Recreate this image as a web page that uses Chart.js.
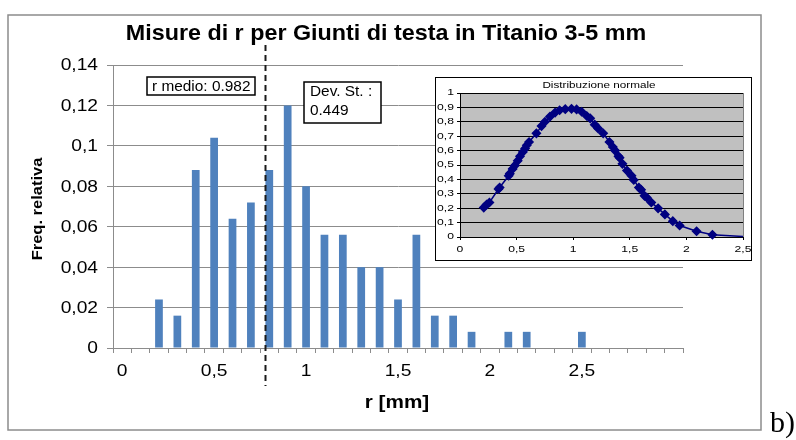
<!DOCTYPE html>
<html><head><meta charset="utf-8">
<script src="https://cdn.jsdelivr.net/npm/chart.js@4.4.1/dist/chart.umd.min.js"></script>
<style>
html,body{margin:0;padding:0;background:#fff;}
#wrap{position:relative;width:796px;height:440px;overflow:hidden;background:#fff;}
#main{position:absolute;left:0;top:0;}
#insetBox{position:absolute;left:435px;top:77px;width:315px;height:182px;border:1px solid #000;background:#fff;}
#inset{position:absolute;left:0;top:0;}
</style></head><body>
<div id="wrap">
<canvas id="main" width="796" height="440"></canvas>
<div id="insetBox"><canvas id="inset" width="315" height="182"></canvas></div>
</div>
<script>
// ---- main histogram data ----
const categories = ['0','0,1','0,2','0,3','0,4','0,5','0,6','0,7','0,8','0,9',
  '1','1,1','1,2','1,3','1,4','1,5','1,6','1,7','1,8','1,9',
  '2','2,1','2,2','2,3','2,4','2,5','2,6','2,7','2,8','2,9','3'];
const relFreq = [0,0,0.024,0.016,0.088,0.104,0.064,0.072,0.088,0.12,
  0.08,0.056,0.056,0.04,0.04,0.024,0.056,0.016,0.016,0.008,
  0,0.008,0.008,0,0,0.008,0,0,0,0,0];
const shownXLabels = ['0','0,5','1','1,5','2','2,5'];
const yTickValues = [0,0.02,0.04,0.06,0.08,0.1,0.12,0.14];
const titleText = 'Misure di r per Giunti di testa in Titanio 3-5 mm';
const xTitle = 'r [mm]';
const yTitle = 'Freq. relativa';
const meanLabel = 'r medio: 0.982';
const devLabel = ['Dev. St. :', '0.449'];
const meanLineCategoryPos = 7.77;
const panelLabel = 'b)';

// ---- inset normal distribution data ----
const insetTitle = 'Distribuzione normale';
const insetX = [0.21,0.235,0.26,0.34,0.35,0.43,0.44,0.465,0.485,0.51,0.53,0.555,0.575,0.59,0.61,
  0.675,0.72,0.75,0.795,0.84,0.88,0.93,0.985,1.03,1.075,1.12,1.15,1.19,1.22,1.265,
  1.32,1.35,1.37,1.40,1.41,1.435,1.475,1.515,1.535,1.58,1.60,1.63,1.65,1.69,1.75,
  1.81,1.88,1.94,2.09,2.23,2.5];
const insetY = [0.204,0.225,0.24,0.333,0.344,0.425,0.44,0.473,0.497,0.53,0.56,0.59,0.614,0.637,0.66,
  0.72,0.77,0.80,0.836,0.864,0.88,0.888,0.89,0.886,0.87,0.84,0.824,0.78,0.754,0.72,
  0.66,0.625,0.60,0.56,0.55,0.508,0.461,0.426,0.396,0.344,0.328,0.286,0.274,0.24,0.199,
  0.157,0.11,0.08,0.04,0.016,0.003];
const insetXTicks = ['0','0,5','1','1,5','2','2,5'];

Chart.defaults.font.family = '"Liberation Sans", Arial, sans-serif';

function txt(ctx, s, x, y, font, o) {
  o = o || {};
  ctx.save();
  ctx.translate(x, y);
  if (o.rot) ctx.rotate(o.rot);
  ctx.scale(o.sx || 1, 1);
  ctx.font = font;
  ctx.fillStyle = o.color || '#000';
  ctx.textAlign = o.align || 'center';
  ctx.textBaseline = o.base || 'middle';
  ctx.fillText(s, 0, 0);
  ctx.restore();
}
const fmtComma = (v, d) => (Math.round(v * d) / d).toString().replace('.', ',');

const mainDeco = {
  id: 'mainDeco',
  beforeDraw(chart) {
    const c = chart.ctx;
    c.save(); c.fillStyle = '#fff'; c.fillRect(0, 0, chart.width, chart.height); c.restore();
  },
  afterDraw(chart) {
    const c = chart.ctx, xs = chart.scales.x, ys = chart.scales.y;
    const F = '"Liberation Sans", Arial, sans-serif';
    // outer frame
    c.save(); c.strokeStyle = '#8c8c8c'; c.lineWidth = 1.5;
    c.strokeRect(8, 15, 753, 415); c.restore();
    // title
    txt(c, titleText, 386, 40, 'bold 22px ' + F, {sx: 1.06, base: 'alphabetic'});
    // y tick labels
    ys.ticks.forEach(t => {
      txt(c, fmtComma(t.value, 100), 98, ys.getPixelForValue(t.value) + 1, '16px ' + F, {align: 'right', sx: 1.2});
    });
    // x tick labels
    categories.forEach((cat, i) => {
      if (shownXLabels.includes(cat) && i < categories.length - 1)
        txt(c, cat, xs.getPixelForValue(i), 372, '16px ' + F, {sx: 1.2});
    });
    // axis titles
    txt(c, xTitle, 397, 403, 'bold 18px ' + F, {sx: 1.15});
    txt(c, yTitle, 38, 209, 'bold 15px ' + F, {rot: -Math.PI / 2, sx: 1.1});
    // dashed mean line
    const lx = Math.round(xs.getPixelForValue(meanLineCategoryPos)) + 0.5;
    c.save(); c.strokeStyle = '#1a1a1a'; c.lineWidth = 2; c.setLineDash([6, 4]);
    c.beginPath(); c.moveTo(lx, 45); c.lineTo(lx, 386); c.stroke(); c.restore();
    // annotation boxes
    c.save(); c.fillStyle = '#fff'; c.strokeStyle = '#000'; c.lineWidth = 1.5;
    c.fillRect(147, 77, 108, 18); c.strokeRect(147, 77, 108, 18);
    c.fillRect(304, 82, 77, 41); c.strokeRect(304, 82, 77, 41);
    c.restore();
    txt(c, meanLabel, 152, 87, '14px ' + F, {align: 'left', sx: 1.1});
    txt(c, devLabel[0], 310, 92, '14px ' + F, {align: 'left', sx: 1.1});
    txt(c, devLabel[1], 310, 111, '14px ' + F, {align: 'left', sx: 1.1});
    // panel label
    txt(c, panelLabel, 770, 432, '30px "Liberation Serif", "Times New Roman", serif', {align: 'left', base: 'alphabetic'});
  }
};

new Chart(document.getElementById('main'), {
  type: 'bar',
  data: {
    labels: categories,
    datasets: [{ data: relFreq, backgroundColor: '#4F81BD', borderWidth: 0,
      barPercentage: 0.42, categoryPercentage: 1.0 }]
  },
  options: {
    responsive: false, animation: false,
    layout: { padding: { top: 65, right: 113, left: 0, bottom: 0 } },
    plugins: { legend: { display: false }, tooltip: { enabled: false }, title: { display: false } },
    scales: {
      x: {
        type: 'category', offset: true,
        grid: { offset: true, drawOnChartArea: false, drawTicks: true, tickLength: 5, color: '#8c8c8c' },
        border: { color: '#8c8c8c', width: 1 },
        ticks: { display: false, autoSkip: false },
        afterFit: s => { s.height = 92; }
      },
      y: {
        min: 0, max: 0.14,
        afterBuildTicks: s => { s.ticks = yTickValues.map(v => ({ value: v })); },
        ticks: { display: false },
        grid: { color: '#8c8c8c', tickLength: 6, drawTicks: true },
        border: { color: '#8c8c8c', width: 1 },
        afterFit: s => { s.width = 113; }
      }
    }
  },
  plugins: [mainDeco]
});

const insetDeco = {
  id: 'insetDeco',
  beforeDraw(chart) {
    const c = chart.ctx, a = chart.chartArea;
    c.save(); c.fillStyle = '#fff'; c.fillRect(0, 0, chart.width, chart.height);
    c.fillStyle = '#c0c0c0'; c.fillRect(a.left, a.top, a.right - a.left, a.bottom - a.top); c.restore();
  },
  afterDraw(chart) {
    const c = chart.ctx, a = chart.chartArea, xs = chart.scales.x, ys = chart.scales.y;
    const F = '"Liberation Sans", Arial, sans-serif';
    c.save(); c.strokeStyle = '#808080'; c.lineWidth = 1;
    c.beginPath(); c.moveTo(Math.round(a.right) + 0.5, a.top); c.lineTo(Math.round(a.right) + 0.5, a.bottom); c.stroke(); c.restore();
    txt(c, insetTitle, 163, 8, '9px ' + F, {sx: 1.3});
    ys.ticks.forEach(t => {
      txt(c, fmtComma(t.value, 10), 18, ys.getPixelForValue(t.value), '9px ' + F, {align: 'right', sx: 1.35});
    });
    xs.ticks.forEach((t, i) => {
      txt(c, insetXTicks[i], xs.getPixelForValue(t.value), 172, '9px ' + F, {sx: 1.35});
    });
  }
};

new Chart(document.getElementById('inset'), {
  type: 'scatter',
  data: {
    datasets: [{
      data: insetX.map((x, i) => ({ x: x, y: insetY[i] })),
      showLine: true, borderColor: '#000080', backgroundColor: '#000080', borderWidth: 1.5,
      pointStyle: 'rectRot', pointBorderWidth: 1.5,
      pointRadius: ctx => (ctx.dataIndex === insetX.length - 1 ? 0 : 4),
      tension: 0, clip: 6
    }]
  },
  options: {
    responsive: false, animation: false,
    layout: { padding: { top: 15, right: 8, left: 0, bottom: 0 } },
    plugins: { legend: { display: false }, tooltip: { enabled: false } },
    scales: {
      x: {
        type: 'linear', min: 0, max: 2.5,
        ticks: { display: false, stepSize: 0.5 },
        grid: { drawOnChartArea: false, drawTicks: true, tickLength: 3, color: '#000' },
        border: { color: '#000', width: 1 },
        afterFit: s => { s.height = 23; }
      },
      y: {
        min: 0, max: 1,
        ticks: { display: false, stepSize: 0.1 },
        grid: { color: '#000', lineWidth: 1, drawTicks: true, tickLength: 3 },
        border: { color: '#000', width: 1 },
        afterFit: s => { s.width = 24; }
      }
    }
  },
  plugins: [insetDeco]
});
</script>
</body></html>
